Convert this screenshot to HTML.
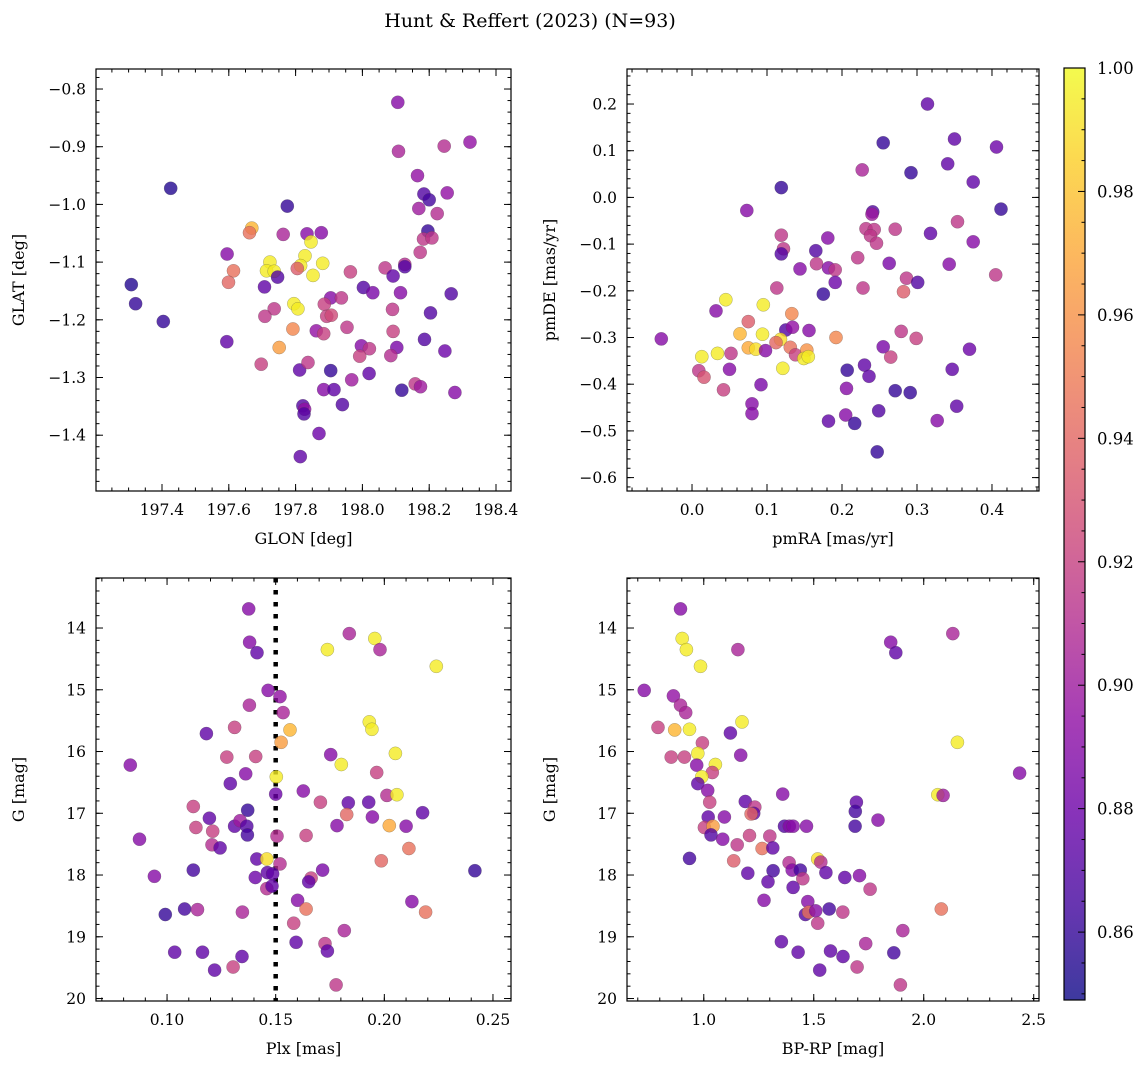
<!DOCTYPE html>
<html><head><meta charset="utf-8"><style>
body{margin:0;background:#fff;}
svg{display:block;font-family:"DejaVu Serif","Liberation Serif",serif;}
svg text{font-family:"DejaVu Serif","Liberation Serif",serif;}
</style></head><body>
<svg id="fig" width="1148" height="1068" viewBox="0 0 1148 1068" xmlns="http://www.w3.org/2000/svg">
<text x="530" y="27" text-anchor="middle" font-size="19">Hunt &amp; Reffert (2023) (N=93)</text>
</svg>
<script>
// ---- data ----
const glon=[198.106,198.322,198.108,198.245,197.426,198.165,198.184,198.200,198.254,198.169,198.224,197.775,197.669,197.662,197.763,197.834,197.877,197.846,198.196,198.183,198.208,198.173,197.595,197.828,197.723,197.881,197.815,197.805,197.614,197.713,197.736,197.746,197.852,197.599,197.964,198.068,198.127,198.127,198.092,197.308,197.321,197.404,197.707,198.003,198.031,198.114,198.266,197.905,197.937,197.886,197.795,197.807,197.736,197.708,197.893,197.907,198.090,198.204,197.954,197.792,197.862,197.884,198.092,198.186,197.594,197.751,197.997,198.021,197.992,198.103,198.085,198.247,197.697,197.812,197.837,197.905,197.968,198.020,197.884,197.915,198.118,198.158,198.174,198.277,197.940,197.822,197.827,197.825,197.870,197.814];
const glat=[-0.823,-0.892,-0.908,-0.899,-0.972,-0.950,-0.982,-0.992,-0.980,-1.007,-1.016,-1.003,-1.041,-1.049,-1.052,-1.051,-1.049,-1.065,-1.046,-1.060,-1.058,-1.083,-1.086,-1.089,-1.100,-1.102,-1.106,-1.111,-1.115,-1.115,-1.116,-1.126,-1.123,-1.135,-1.117,-1.110,-1.104,-1.108,-1.124,-1.139,-1.172,-1.203,-1.143,-1.144,-1.153,-1.153,-1.155,-1.162,-1.162,-1.173,-1.172,-1.181,-1.181,-1.194,-1.194,-1.192,-1.182,-1.188,-1.213,-1.216,-1.219,-1.224,-1.220,-1.234,-1.238,-1.248,-1.245,-1.250,-1.263,-1.248,-1.262,-1.254,-1.277,-1.287,-1.274,-1.288,-1.304,-1.293,-1.321,-1.321,-1.322,-1.311,-1.316,-1.326,-1.347,-1.349,-1.355,-1.363,-1.397,-1.437];
const c1=[.89,.895,.905,.91,.855,.895,.87,.865,.895,.9,.91,.86,.975,.945,.905,.89,.89,.995,.86,.915,.915,.915,.89,.995,.995,.995,.995,.935,.945,.995,.995,.87,.995,.94,.92,.915,.91,.87,.875,.855,.86,.86,.875,.87,.885,.89,.87,.89,.915,.92,.995,.995,.915,.915,.92,.925,.915,.87,.915,.955,.895,.92,.92,.87,.875,.965,.89,.915,.92,.885,.91,.88,.92,.875,.915,.86,.9,.875,.89,.875,.86,.915,.9,.89,.87,.87,.895,.87,.88,.875];

const pmra=[0.314,0.255,0.350,0.406,0.292,0.341,0.375,0.227,0.119,0.073,0.412,0.241,0.240,0.354,0.232,0.243,0.271,0.238,0.246,0.318,0.375,0.119,0.122,0.119,0.181,0.165,0.144,0.166,0.182,0.191,0.191,0.221,0.263,0.343,0.405,0.286,0.301,0.228,0.282,0.113,0.175,0.045,0.095,0.032,0.133,0.075,0.125,0.134,0.156,-0.041,0.064,0.094,0.118,0.112,0.192,0.279,0.299,0.255,0.370,0.075,0.085,0.098,0.131,0.138,0.153,0.149,0.155,0.265,0.013,0.034,0.052,0.009,0.016,0.050,0.121,0.207,0.230,0.236,0.347,0.042,0.092,0.206,0.271,0.291,0.080,0.080,0.249,0.353,0.182,0.205,0.217,0.327,0.247];
const pmde=[0.200,0.117,0.125,0.108,0.053,0.072,0.033,0.059,0.021,-0.028,-0.025,-0.031,-0.036,-0.052,-0.067,-0.069,-0.068,-0.082,-0.098,-0.077,-0.095,-0.081,-0.110,-0.121,-0.087,-0.114,-0.153,-0.142,-0.151,-0.155,-0.182,-0.129,-0.141,-0.143,-0.166,-0.173,-0.182,-0.194,-0.202,-0.194,-0.207,-0.219,-0.230,-0.243,-0.249,-0.266,-0.284,-0.278,-0.285,-0.303,-0.292,-0.293,-0.304,-0.311,-0.300,-0.287,-0.302,-0.320,-0.325,-0.322,-0.325,-0.328,-0.321,-0.337,-0.327,-0.345,-0.341,-0.342,-0.341,-0.334,-0.334,-0.371,-0.385,-0.368,-0.366,-0.370,-0.359,-0.383,-0.368,-0.412,-0.401,-0.409,-0.414,-0.418,-0.442,-0.463,-0.457,-0.447,-0.479,-0.466,-0.484,-0.478,-0.545];
const c2=[.875,.86,.875,.88,.86,.875,.875,.905,.86,.89,.86,.87,.9,.915,.915,.915,.915,.915,.915,.875,.89,.915,.915,.87,.89,.87,.89,.915,.89,.915,.88,.915,.885,.89,.915,.915,.87,.915,.935,.915,.86,.995,.995,.89,.955,.935,.87,.895,.89,.89,.975,.995,.99,.94,.955,.915,.92,.885,.88,.97,.99,.89,.945,.92,.96,.995,.995,.92,.995,.995,.915,.915,.93,.89,.995,.86,.875,.875,.875,.92,.885,.89,.86,.86,.89,.89,.87,.875,.875,.89,.86,.89,.86];

const plx=[0.1376,0.1839,0.1956,0.1980,0.1738,0.1380,0.1414,0.2239,0.1465,0.1520,0.1379,0.1534,0.1311,0.1181,0.1566,0.1525,0.1931,0.1943,0.1275,0.1408,0.0831,0.1753,0.2051,0.1802,0.1965,0.1362,0.1503,0.1291,0.1500,0.1627,0.1706,0.1834,0.1928,0.2012,0.2058,0.1121,0.1371,0.2176,0.1827,0.1195,0.1945,0.1133,0.1210,0.1311,0.1336,0.1367,0.1370,0.1782,0.2023,0.2100,0.0873,0.1506,0.1640,0.1207,0.1244,0.2113,0.1413,0.1459,0.1520,0.1986,0.1121,0.1716,0.2417,0.0942,0.1406,0.1462,0.1486,0.1459,0.1483,0.1663,0.1652,0.1601,0.2127,0.0992,0.1081,0.1140,0.1347,0.1640,0.2190,0.1583,0.1816,0.1594,0.1727,0.1738,0.1035,0.1163,0.1345,0.1219,0.1304,0.1778];
const gmag3=[13.69,14.09,14.17,14.35,14.35,14.23,14.40,14.62,15.01,15.11,15.25,15.37,15.61,15.71,15.65,15.85,15.52,15.64,16.09,16.08,16.22,16.05,16.03,16.21,16.34,16.36,16.41,16.52,16.69,16.64,16.82,16.83,16.82,16.71,16.70,16.89,16.95,16.99,17.02,17.08,17.06,17.23,17.29,17.21,17.12,17.21,17.35,17.20,17.20,17.21,17.42,17.37,17.36,17.51,17.56,17.57,17.74,17.74,17.82,17.77,17.92,17.92,17.93,18.02,18.04,17.96,17.98,18.22,18.18,18.05,18.11,18.41,18.43,18.64,18.55,18.56,18.60,18.55,18.60,18.78,18.90,19.09,19.11,19.23,19.25,19.25,19.32,19.54,19.49,19.78];
const c3=[.89,.905,.995,.905,.995,.89,.875,.995,.89,.895,.905,.905,.92,.875,.975,.965,.995,.995,.92,.92,.89,.89,.995,.995,.92,.89,.995,.875,.88,.89,.92,.875,.875,.91,.995,.92,.86,.875,.94,.875,.89,.92,.92,.875,.9,.87,.865,.89,.97,.89,.89,.91,.92,.91,.875,.945,.875,.99,.91,.94,.865,.885,.86,.89,.88,.875,.875,.91,.875,.92,.875,.89,.89,.86,.865,.905,.905,.945,.945,.92,.905,.875,.915,.875,.875,.875,.875,.875,.92,.915];

const bprp=[0.894,0.902,0.921,0.985,1.155,1.850,1.873,2.132,0.729,0.862,0.894,0.918,0.792,0.868,0.935,1.174,1.121,0.994,0.852,0.912,0.973,1.168,2.153,0.968,1.053,1.039,0.991,2.436,0.973,1.018,1.027,1.359,2.064,2.088,1.189,1.232,1.227,1.215,1.694,1.689,1.688,1.792,1.020,1.094,1.003,1.042,1.033,1.086,1.152,1.208,1.300,1.265,1.314,1.367,1.389,1.406,1.467,0.935,1.136,1.200,1.315,1.292,1.388,1.402,1.439,1.450,1.518,1.532,1.555,1.641,1.708,1.756,1.406,1.274,1.473,1.462,1.477,1.509,1.570,1.632,1.518,2.080,1.905,1.353,1.429,1.576,1.633,1.736,1.864,1.527,1.697,1.894];
const gmag4=[13.69,14.17,14.35,14.62,14.35,14.23,14.40,14.09,15.01,15.10,15.25,15.37,15.61,15.65,15.64,15.52,15.70,15.86,16.09,16.09,16.03,16.06,15.85,16.22,16.21,16.34,16.41,16.35,16.52,16.63,16.82,16.69,16.70,16.71,16.81,16.90,17.00,17.01,16.82,16.97,17.21,17.11,17.06,17.06,17.23,17.21,17.35,17.42,17.51,17.36,17.37,17.57,17.56,17.21,17.21,17.21,17.21,17.73,17.77,17.97,17.93,18.11,17.80,17.92,17.92,18.06,17.74,17.79,17.96,18.04,18.01,18.23,18.20,18.41,18.43,18.64,18.60,18.58,18.55,18.60,18.78,18.55,18.90,19.08,19.25,19.23,19.32,19.11,19.26,19.54,19.49,19.78];
const c4=[.89,.995,.995,.995,.905,.89,.875,.905,.89,.895,.905,.905,.92,.975,.995,.995,.875,.92,.92,.92,.995,.89,.995,.89,.995,.92,.995,.89,.875,.89,.92,.89,.995,.9,.875,.915,.875,.94,.875,.865,.865,.89,.875,.89,.92,.965,.87,.89,.915,.92,.915,.945,.875,.87,.89,.89,.89,.865,.935,.875,.865,.875,.91,.89,.865,.915,.99,.91,.875,.875,.89,.915,.875,.89,.89,.87,.945,.89,.865,.915,.915,.945,.905,.875,.875,.875,.875,.905,.865,.875,.915,.915];

const cbTicks=[0.86,0.88,0.90,0.92,0.94,0.96,0.98,1.00];
const VMIN=0.849, VMAX=1.0;

// ---- helpers ----
const NS='http://www.w3.org/2000/svg';
const svg=document.getElementById('fig');
function mk(tag,attrs,parent){const e=document.createElementNS(NS,tag);for(const k in attrs)e.setAttribute(k,attrs[k]);(parent||svg).appendChild(e);return e;}
const stops=[[13,8,135],[65,4,157],[106,0,168],[143,13,164],[177,42,144],[204,71,120],[225,100,98],[242,132,75],[252,166,54],[252,206,37],[240,249,33]];
function plasma(t){t=Math.max(0,Math.min(1,t));const p=t*10,i=Math.min(9,Math.floor(p)),f=p-i;const a=stops[i],b=stops[i+1];return 'rgb('+a.map((v,k)=>Math.round(v+(b[k]-v)*f)).join(',')+')';}
function cmap(v){return plasma((v-VMIN)/(VMAX-VMIN));}

function panel(o){
  const g=mk('g',{});
  
  
  const sx=v=>o.x0+(v-o.xr[0])/(o.xr[1]-o.xr[0])*(o.x1-o.x0);
  const sy=v=>o.inv? o.y0+(v-o.yr[0])/(o.yr[1]-o.yr[0])*(o.y1-o.y0) : o.y1-(v-o.yr[0])/(o.yr[1]-o.yr[0])*(o.y1-o.y0);
  const clip='clip-'+o.name;
  const cp=mk('clipPath',{id:clip},g);mk('rect',{x:o.x0,y:o.y0,width:o.x1-o.x0,height:o.y1-o.y0},cp);
  const pg=mk('g',{'clip-path':'url(#'+clip+')'},g);
  if(o.vline!==undefined){
    const l=mk('line',{x1:sx(o.vline),x2:sx(o.vline),y1:o.y0,y2:o.y1,stroke:'#000','stroke-width':4.5,'stroke-dasharray':'4.5 7.5'},pg);
    
    
  }
  for(let i=0;i<o.xs.length;i++){
    const c=mk('circle',{cx:sx(o.xs[i]).toFixed(1),cy:sy(o.ys[i]).toFixed(1),r:6.6,fill:cmap(o.cs[i]),'fill-opacity':0.8,stroke:'rgba(70,70,70,0.45)','stroke-width':0.5},pg);
    
    
  }
  const tk=mk('g',{stroke:'#000','stroke-width':1},g);
  function ticks(axis,step,len){
    const r=axis==='x'?o.xr:o.yr;const lo=Math.min(r[0],r[1]),hi=Math.max(r[0],r[1]);
    for(let v=Math.ceil(lo/step-1e-6)*step;v<=hi+1e-9;v+=step){
      if(axis==='x'){const x=sx(v);mk('line',{x1:x,x2:x,y1:o.y1,y2:o.y1-len},tk);mk('line',{x1:x,x2:x,y1:o.y0,y2:o.y0+len},tk);}
      else{const y=sy(v);mk('line',{x1:o.x0,x2:o.x0+len,y1:y,y2:y},tk);mk('line',{x1:o.x1,x2:o.x1-len,y1:y,y2:y},tk);}
    }
  }
  ticks('x',o.xmaj,7);ticks('x',o.xmin,3.5);ticks('y',o.ymaj,7);ticks('y',o.ymin,3.5);
  for(const v of o.xt){const t=mk('text',{x:sx(v),y:o.y1+24,'text-anchor':'middle','font-size':15.5},g);t.textContent=o.xf(v);}
  for(const v of o.yt){const t=mk('text',{x:o.x0-10,y:sy(v)+5.5,'text-anchor':'end','font-size':15.5},g);t.textContent=o.yf(v);}
  mk('rect',{x:o.x0,y:o.y0,width:o.x1-o.x0,height:o.y1-o.y0,fill:'none',stroke:'#000','stroke-width':1.2},g);
  const xl=mk('text',{x:(o.x0+o.x1)/2,y:o.y1+53,'text-anchor':'middle','font-size':16},g);xl.textContent=o.xlab;
  
  const ylx=o.x0-72;const yl=mk('text',{x:ylx,y:(o.y0+o.y1)/2,'text-anchor':'middle','font-size':16,transform:'rotate(-90 '+ylx+' '+(o.y0+o.y1)/2+')'},g);yl.textContent=o.ylab;
  
}
const f1=v=>v.toFixed(1), f2=v=>v.toFixed(2), f0=v=>v.toFixed(0), fm=v=>(v<0?'\u2212':'')+Math.abs(v).toFixed(1);
panel({name:'glon-glat-panel',x0:96,x1:511,y0:69,y1:491,xr:[197.2024,198.4449],yr:[-1.4967,-0.7653],xs:glon,ys:glat,cs:c1,
 xmaj:0.2,xmin:0.05,ymaj:0.1,ymin:0.02,xt:[197.4,197.6,197.8,198.0,198.2,198.4],yt:[-0.8,-0.9,-1.0,-1.1,-1.2,-1.3,-1.4],xf:f1,yf:fm,xlab:'GLON [deg]',ylab:'GLAT [deg]'});
panel({name:'pm-panel',x0:627,x1:1039,y0:69,y1:491,xr:[-0.0867,0.4627],yr:[-0.6287,0.275],xs:pmra,ys:pmde,cs:c2,
 xmaj:0.1,xmin:0.02,ymaj:0.1,ymin:0.02,xt:[0,0.1,0.2,0.3,0.4],yt:[0.2,0.1,0,-0.1,-0.2,-0.3,-0.4,-0.5,-0.6],xf:f1,yf:fm,xlab:'pmRA [mas/yr]',ylab:'pmDE [mas/yr]'});
panel({name:'plx-g-panel',x0:96,x1:511,y0:578,y1:1001,xr:[0.0673,0.2583],yr:[13.19,20.04],inv:true,xs:plx,ys:gmag3,cs:c3,vline:0.15,
 xmaj:0.05,xmin:0.01,ymaj:1,ymin:0.2,xt:[0.10,0.15,0.20,0.25],yt:[14,15,16,17,18,19,20],xf:f2,yf:f0,xlab:'Plx [mas]',ylab:'G [mag]'});
panel({name:'cmd-panel',x0:627,x1:1039,y0:578,y1:1001,xr:[0.651,2.524],yr:[13.19,20.04],inv:true,xs:bprp,ys:gmag4,cs:c4,
 xmaj:0.5,xmin:0.1,ymaj:1,ymin:0.2,xt:[1.0,1.5,2.0,2.5],yt:[14,15,16,17,18,19,20],xf:f1,yf:f0,xlab:'BP-RP [mag]',ylab:'G [mag]'});

// colorbar
const cb=mk('g',{});


const cbx0=1064,cbx1=1085,cby0=68,cby1=1000;
const defs=mk('defs',{},cb);const lg=mk('linearGradient',{id:'cbg',x1:0,y1:1,x2:0,y2:0},defs);
for(let i=0;i<=20;i++){mk('stop',{offset:i/20,'stop-color':plasma(i/20),'stop-opacity':0.8},lg);}
mk('rect',{x:cbx0,y:cby0,width:cbx1-cbx0,height:cby1-cby0,fill:'url(#cbg)',stroke:'#000','stroke-width':1.2},cb);
const cy=v=>cby1-(v-VMIN)/(VMAX-VMIN)*(cby1-cby0);
for(let v=0.85;v<=1.0001;v+=0.005){const y=cy(v);if(y<cby0-0.5)continue;const major=Math.abs(v*50-Math.round(v*50))<1e-6;mk('line',{x1:cbx1,x2:cbx1-(major?7:3.5),y1:y,y2:y,stroke:'#000','stroke-width':1},cb);}
for(const v of cbTicks){const t=mk('text',{x:1097,y:cy(v)+6,'font-size':16.5},cb);t.textContent=v.toFixed(2);}
</script>
</body></html>
